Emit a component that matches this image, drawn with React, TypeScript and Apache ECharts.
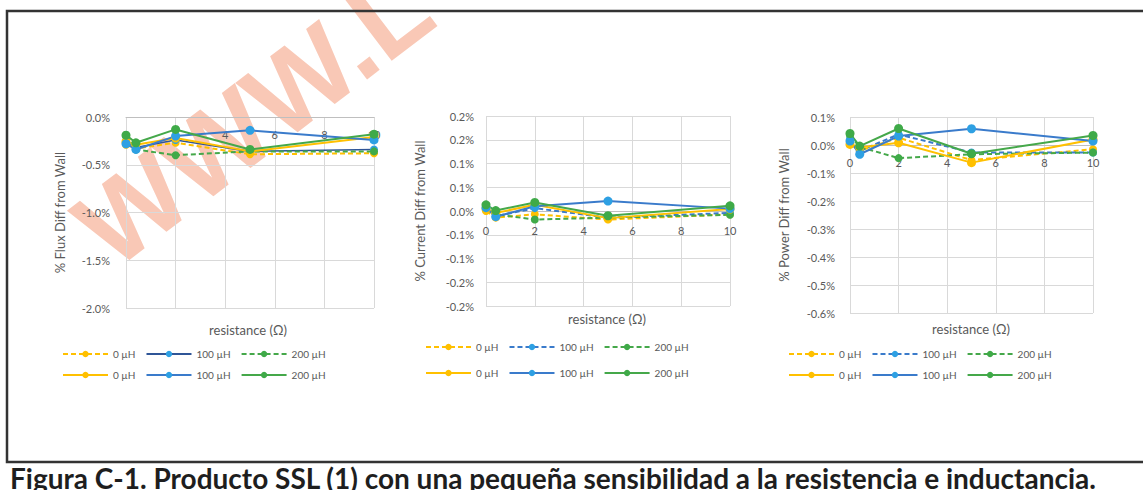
import React, { useEffect, useRef } from "react";
import * as echarts from "echarts";

// ---------- data ----------
const xValues = [0, 0.4, 2, 5, 10];
const inductances = ["0 µH", "100 µH", "200 µH"];
const xTicks = ["0", "2", "4", "6", "8", "10"];

// % Flux diff (values in %)
const fluxDashed0 = [-0.29, -0.33, -0.27, -0.39, -0.38];
const fluxDashed100 = [-0.25, -0.32, -0.24, -0.36, -0.34];
const fluxDashed200 = [-0.2, -0.34, -0.4, -0.36, -0.36];
const fluxSolid0 = [-0.26, -0.29, -0.22, -0.36, -0.21];
const fluxSolid100 = [-0.28, -0.34, -0.2, -0.14, -0.24];
const fluxSolid200 = [-0.19, -0.27, -0.13, -0.34, -0.18];
const fluxTicks = ["-2.0%", "-1.5%", "-1.0%", "-0.5%", "0.0%"];

// % Current diff
const currentDashed0 = [0.0, -0.014, -0.007, -0.018, -0.007];
const currentDashed100 = [0.006, -0.011, 0.006, -0.014, -0.004];
const currentDashed200 = [0.008, -0.007, -0.018, -0.014, -0.008];
const currentSolid0 = [0.004, -0.004, 0.013, -0.015, 0.004];
const currentSolid100 = [0.007, -0.012, 0.01, 0.021, 0.005];
const currentSolid200 = [0.013, 0.001, 0.018, -0.01, 0.011];
const currentTicks = ["-0.2%", "-0.2%", "-0.1%", "-0.1%", "0.0%", "0.1%", "0.1%", "0.2%", "0.2%"];

// % Power diff
const powerDashed0 = [0.005, -0.021, 0.026, -0.054, -0.015];
const powerDashed100 = [0.02, -0.021, 0.038, -0.027, -0.027];
const powerDashed200 = [0.034, -0.007, -0.047, -0.033, -0.027];
const powerSolid0 = [0.002, -0.009, 0.008, -0.063, 0.02];
const powerSolid100 = [0.014, -0.033, 0.032, 0.058, 0.014];
const powerSolid200 = [0.041, -0.004, 0.059, -0.031, 0.034];
const powerTicks = ["-0.6%", "-0.5%", "-0.4%", "-0.3%", "-0.2%", "-0.1%", "0.0%", "0.1%"];

const yNames = ["% Flux Diff from Wall", "% Current Diff from Wall", "% Power Diff from Wall"];
const xName = "resistance (Ω)";
const caption = "Figura C-1. Producto SSL (1) con una pequeña sensibilidad a la resistencia e inductancia.";
const watermark = "WWW.L";

// ---------- styling / layout ----------
const lineColors = ["#FFC000", "#3A7BCB", "#45A84A"];
const markColors = ["#FFC000", "#2EA0E3", "#3FAA48"];
const gray = "#595959";
const gridColor = "#D9D9D9";

const grids = [
  { left: 126, top: 117, width: 248, height: 191 },
  { left: 486, top: 116, width: 244, height: 190 },
  { left: 850, top: 117, width: 243, height: 196 },
];
const yRanges = [
  { min: -2, max: 0, interval: 0.5, ticks: fluxTicks, margin: 16 },
  { min: -0.2, max: 0.2, interval: 0.05, ticks: currentTicks, margin: 12 },
  { min: -0.6, max: 0.1, interval: 0.1, ticks: powerTicks, margin: 15 },
];
const xLabelMargins = [12, 14, 12];
const xNamePos = [
  [248, 330],
  [607, 319],
  [971, 329],
];
const legendLeft = [62, 425, 788];
const legendRows = [
  [356, 377],
  [349, 375],
  [356, 377],
];

const chartData = [
  [fluxDashed0, fluxDashed100, fluxDashed200, fluxSolid0, fluxSolid100, fluxSolid200],
  [currentDashed0, currentDashed100, currentDashed200, currentSolid0, currentSolid100, currentSolid200],
  [powerDashed0, powerDashed100, powerDashed200, powerSolid0, powerSolid100, powerSolid200],
];

function seriesName(c: number, k: number) {
  const ind = inductances[k % 3];
  return `${ind}|${c}|${k < 3 ? "d" : "s"}`;
}

export default function App() {
  const ref = useRef<HTMLDivElement>(null);

  useEffect(() => {
    if (!ref.current) return;
    const chart = echarts.init(ref.current, undefined, { renderer: "svg" });

    const series: any[] = [];
    const legends: any[] = [];
    chartData.forEach((sets, c) => {
      sets.forEach((vals, k) => {
        const ci = k % 3;
        const dashed = k < 3;
        const special = c === 0 && k === 1;
        series.push({
          type: "line",
          name: seriesName(c, k),
          xAxisIndex: c,
          yAxisIndex: c,
          data: vals.map((v, i) => [xValues[i], v]),
          symbol: "circle",
          symbolSize: dashed ? 8 : 9,
          showSymbol: true,
          lineStyle: {
            color: special ? "#2F5597" : lineColors[ci],
            width: special ? 1.6 : 2,
            type: dashed && !special ? [5, 3] : "solid",
          },
          itemStyle: { color: markColors[ci], borderWidth: 0 },
          emphasis: { disabled: true },
          z: dashed ? 2 : 3,
        });
      });
      [0, 1].forEach((row) => {
        legends.push({
          left: legendLeft[c],
          top: legendRows[c][row] - 7,
          orient: "horizontal",
          itemWidth: 45,
          itemHeight: 8,
          itemGap: 10,
          padding: 0,
          selectedMode: false,
          data: [0, 1, 2].map((k) => seriesName(c, row * 3 + k)),
          formatter: (n: string) => n.split("|")[0],
          textStyle: { color: gray, fontSize: 10, fontFamily: "Lato", width: 48 },
        });
      });
    });

    const graphics: any[] = [
      {
        type: "text",
        z: -10,
        silent: true,
        x: 124,
        y: 286,
        rotation: 0.65,
        style: {
          text: watermark,
          fontSize: 112,
          fontWeight: "bold",
          fontFamily: "Liberation Sans",
          fill: "#F9C8B6",
          textAlign: "left",
          textVerticalAlign: "bottom",
        },
      },
      {
        type: "rect",
        silent: true,
        shape: { x: 7, y: 11, width: 1160, height: 451 },
        style: { fill: "none", stroke: "#333333", lineWidth: 2.5 },
        z: 10,
      },
      {
        type: "text",
        silent: true,
        x: 10,
        y: 478,
        style: {
          text: caption,
          fontSize: 28,
          fontWeight: "bold",
          fontFamily: "Lato",
          fill: "#1E1E1E",
          textAlign: "left",
          textVerticalAlign: "middle",
        },
      },
    ];
    xNamePos.forEach((p) => {
      graphics.push({
        type: "text",
        silent: true,
        x: p[0],
        y: p[1],
        style: {
          text: xName,
          fontSize: 13,
          fontFamily: "Lato",
          fill: gray,
          textAlign: "center",
          textVerticalAlign: "middle",
        },
      });
    });

    chart.setOption({
      animation: false,
      backgroundColor: "#ffffff",
      grid: grids.map((g) => ({ ...g, containLabel: false })),
      xAxis: grids.map((g, c) => {
        const r = yRanges[c];
        // place the x axis where y = 0 (as in the reference)
        const zeroOffset = -g.height * (0 - r.min) / (r.max - r.min);
        return {
          type: "value",
          gridIndex: c,
          min: 0,
          max: 10,
          interval: 2,
          position: "bottom",
          offset: zeroOffset,
          axisLine: { show: true, onZero: false, lineStyle: { color: "#BFBFBF", width: 1 } },
          axisTick: { show: false },
          axisLabel: {
            color: gray,
            fontSize: 11,
            fontFamily: "Lato",
            margin: xLabelMargins[c],
            formatter: (v: number) => xTicks[Math.round(v / 2)] ?? "",
          },
          splitLine: { show: true, lineStyle: { color: gridColor, width: 1 } },
        };
      }),
      yAxis: yRanges.map((r, c) => ({
        type: "value",
        gridIndex: c,
        min: r.min,
        max: r.max,
        interval: r.interval,
        name: yNames[c],
        nameLocation: "middle",
        nameRotate: 90,
        nameGap: 60,
        nameTextStyle: { color: gray, fontSize: 13, fontFamily: "Lato" },
        axisLine: { show: false, onZero: false },
        axisTick: { show: false },
        axisLabel: {
          color: gray,
          fontSize: 11,
          fontFamily: "Lato",
          margin: r.margin,
          formatter: (v: number) => r.ticks[Math.round((v - r.min) / r.interval)] ?? "",
        },
        splitLine: { show: true, lineStyle: { color: gridColor, width: 1 } },
      })),
      legend: legends,
      series,
      graphic: graphics,
    });

    return () => chart.dispose();
  }, []);

  return (
    <div
      ref={ref}
      style={{ position: "absolute", left: 0, top: 0, width: 1143, height: 490 }}
    />
  );
}
